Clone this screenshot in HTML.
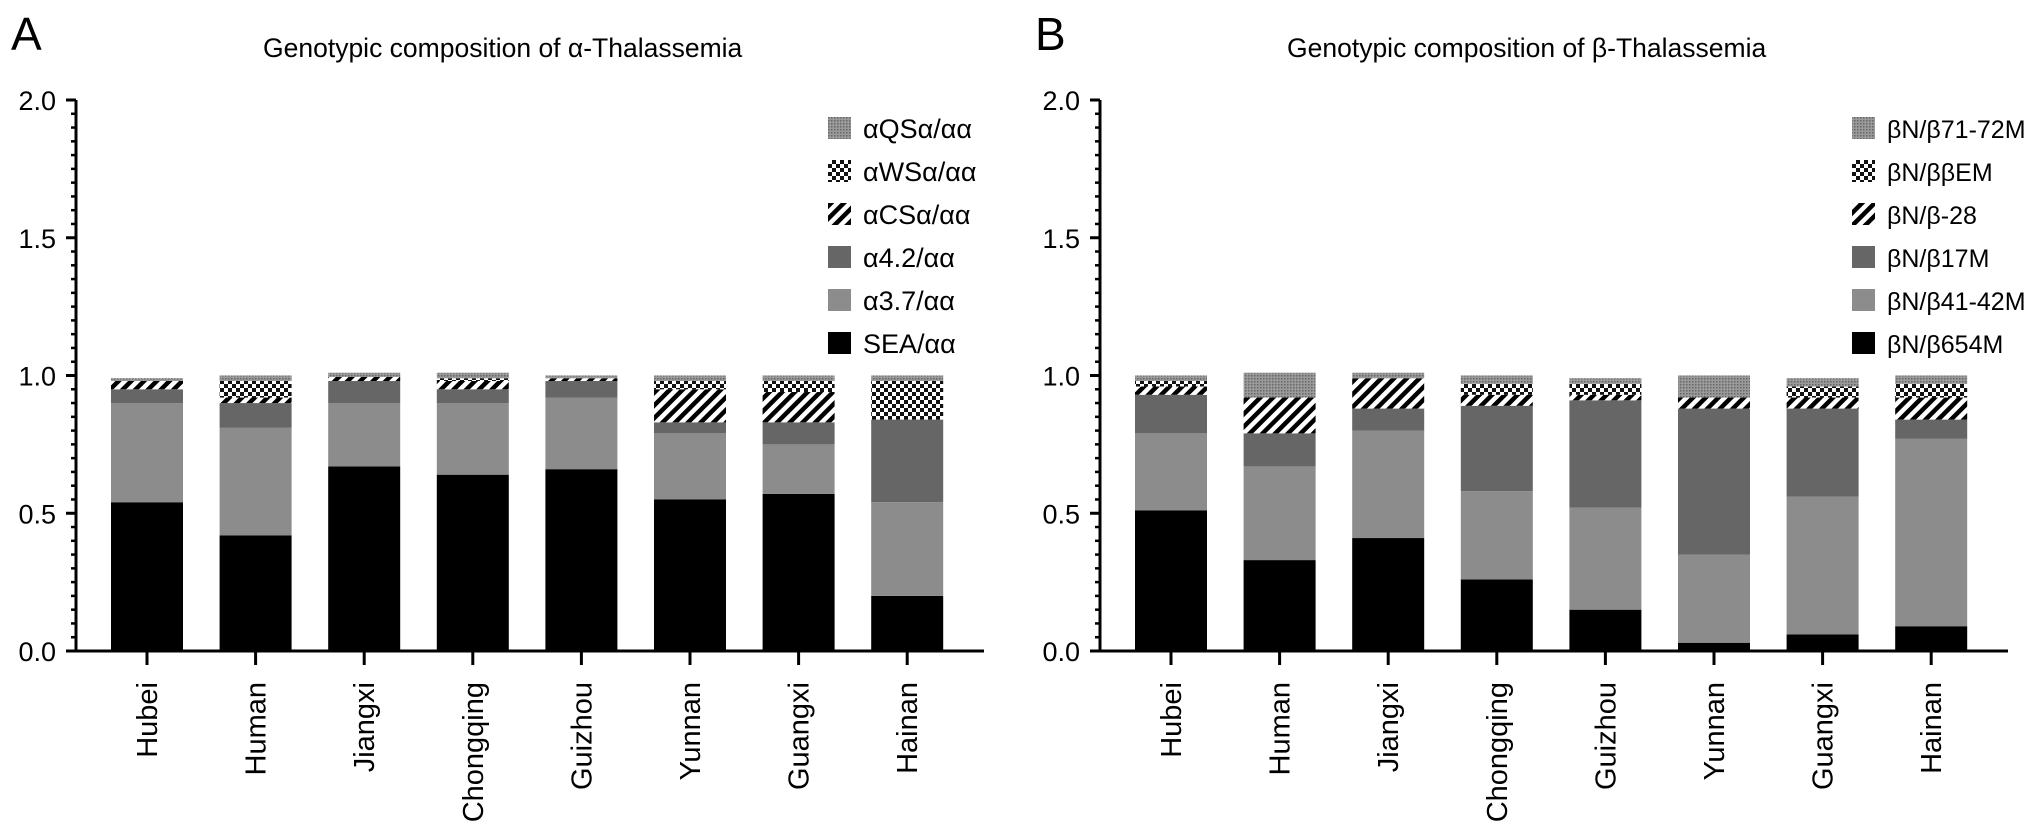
<!DOCTYPE html>
<html><head><meta charset="utf-8"><style>
html,body{margin:0;padding:0;background:#fff;}
svg{display:block;font-family:"Liberation Sans",sans-serif;}
</style></head><body>
<svg id="chart" width="2032" height="835" viewBox="0 0 2032 835">
<defs>
<pattern id="pStripe" width="9" height="9" patternUnits="userSpaceOnUse" patternTransform="rotate(45)">
<rect width="9" height="9" fill="#fff"/><rect width="4.5" height="9" fill="#000"/></pattern>
<pattern id="pCheck" width="8" height="8" patternUnits="userSpaceOnUse">
<rect width="8" height="8" fill="#fff"/><rect width="4" height="4" fill="#111"/><rect x="4" y="4" width="4" height="4" fill="#111"/></pattern>
<pattern id="pDot" width="3" height="3" patternUnits="userSpaceOnUse">
<rect width="3" height="3" fill="#9a9a9a"/><rect width="1.5" height="1.5" fill="#666"/></pattern>
</defs>
<g id="panelA"></g>
<g id="panelB"></g>
</svg>
<script>
const categories = ["Hubei","Human","Jiangxi","Chongqing","Guizhou","Yunnan","Guangxi","Hainan"];
const yTicks = [0,0.5,1.0,1.5,2.0];
const yTickLabels = ["0.0","0.5","1.0","1.5","2.0"];
const alphaSeriesNames = ["SEA/αα","α3.7/αα","α4.2/αα","αCSα/αα","αWSα/αα","αQSα/αα"];
const alphaSEA  = [0.54,0.42,0.67,0.64,0.66,0.55,0.57,0.20];
const alpha37   = [0.36,0.39,0.23,0.26,0.26,0.24,0.18,0.34];
const alpha42   = [0.05,0.09,0.08,0.05,0.06,0.04,0.08,0.30];
const alphaCS   = [0.03,0.02,0.015,0.03,0.01,0.12,0.11,0.0];
const alphaWS   = [0.0,0.06,0.0,0.01,0.0,0.03,0.04,0.14];
const alphaQS   = [0.01,0.02,0.015,0.02,0.01,0.02,0.02,0.02];
const betaSeriesNames = ["βN/β654M","βN/β41-42M","βN/β17M","βN/β-28","βN/ββEM","βN/β71-72M"];
const beta654   = [0.51,0.33,0.41,0.26,0.15,0.03,0.06,0.09];
const beta4142  = [0.28,0.34,0.39,0.32,0.37,0.32,0.50,0.68];
const beta17    = [0.14,0.12,0.08,0.31,0.39,0.53,0.32,0.07];
const beta28    = [0.03,0.13,0.11,0.04,0.02,0.04,0.04,0.08];
const betaEM    = [0.02,0.0,0.0,0.04,0.04,0.0,0.04,0.05];
const beta7172  = [0.02,0.09,0.02,0.03,0.02,0.08,0.03,0.03];

const fills = ["#000","#8c8c8c","#666","url(#pStripe)","url(#pCheck)","url(#pDot)"];
const NS="http://www.w3.org/2000/svg";
function mk(parent,tag,attrs,text){const e=document.createElementNS(NS,tag);for(const k in attrs)e.setAttribute(k,attrs[k]);if(text!==undefined)e.textContent=text;parent.appendChild(e);return e;}

function drawPanel(g,ox,letter,title,series,names,tag,legendSize){
  const axisX=ox+76, y0=651, y2=100;
  const yScale=v=>y0-(v/2)*(y0-y2);
  const xScale=i=>ox+147+i*108.6;
  const bw=72;
  let t=mk(g,'text',{x:ox+11,y:50,'font-size':46},letter);
  
  
  t=mk(g,'text',{x:ox+263,y:57,'font-size':26.5},title);
  
  
  categories.forEach((c,i)=>{
    let acc=0;
    series.forEach((s,k)=>{
      const v=s[i]; if(v<=0){return;}
      const r=mk(g,'rect',{x:xScale(i)-bw/2,y:yScale(acc+v),width:bw,height:yScale(acc)-yScale(acc+v),fill:fills[k]});
      
      
      acc+=v;
    });
  });
  let a=mk(g,'line',{x1:axisX,y1:y0+1,x2:axisX,y2:y2,stroke:'#000','stroke-width':3});
  
  
  for(let m=0;m<=40;m++){
    const v=m*0.05, maj=(m%10===0);
    mk(g,'line',{x1:axisX-(maj?10:5),y1:yScale(v),x2:axisX,y2:yScale(v),stroke:'#000','stroke-width':maj?3:2.5});
  }
  yTicks.forEach((v,j)=>{
    const l=mk(g,'text',{x:axisX-20,y:yScale(v)+10,'font-size':27,'text-anchor':'end'},yTickLabels[j]);
    
    
  });
  a=mk(g,'line',{x1:axisX-1,y1:y0,x2:ox+984,y2:y0,stroke:'#000','stroke-width':3});
  
  
  categories.forEach((c,i)=>{
    mk(g,'line',{x1:xScale(i),y1:y0,x2:xScale(i),y2:y0+14,stroke:'#000','stroke-width':3});
    const l=mk(g,'text',{x:0,y:0,'font-size':29,'text-anchor':'end',transform:`translate(${xScale(i)+10},${y0+31}) rotate(-90)`},c);
    
    
  });
  const lg=mk(g,'g',{});
  
  
  for(let k=5;k>=0;k--){
    const ry=128+(5-k)*43;
    const e=mk(lg,'g',{});
    
    
    mk(e,'rect',{x:ox+828,y:ry-11,width:23,height:22,fill:fills[k]});
    mk(e,'text',{x:ox+863,y:ry+10,'font-size':legendSize},names[k]);
  }
}
drawPanel(document.getElementById('panelA'),0,'A','Genotypic composition of α-Thalassemia',[alphaSEA,alpha37,alpha42,alphaCS,alphaWS,alphaQS],alphaSeriesNames,'alpha',27);
drawPanel(document.getElementById('panelB'),1024,'B','Genotypic composition of β-Thalassemia',[beta654,beta4142,beta17,beta28,betaEM,beta7172],betaSeriesNames,'beta',25);
</script>
</body></html>
